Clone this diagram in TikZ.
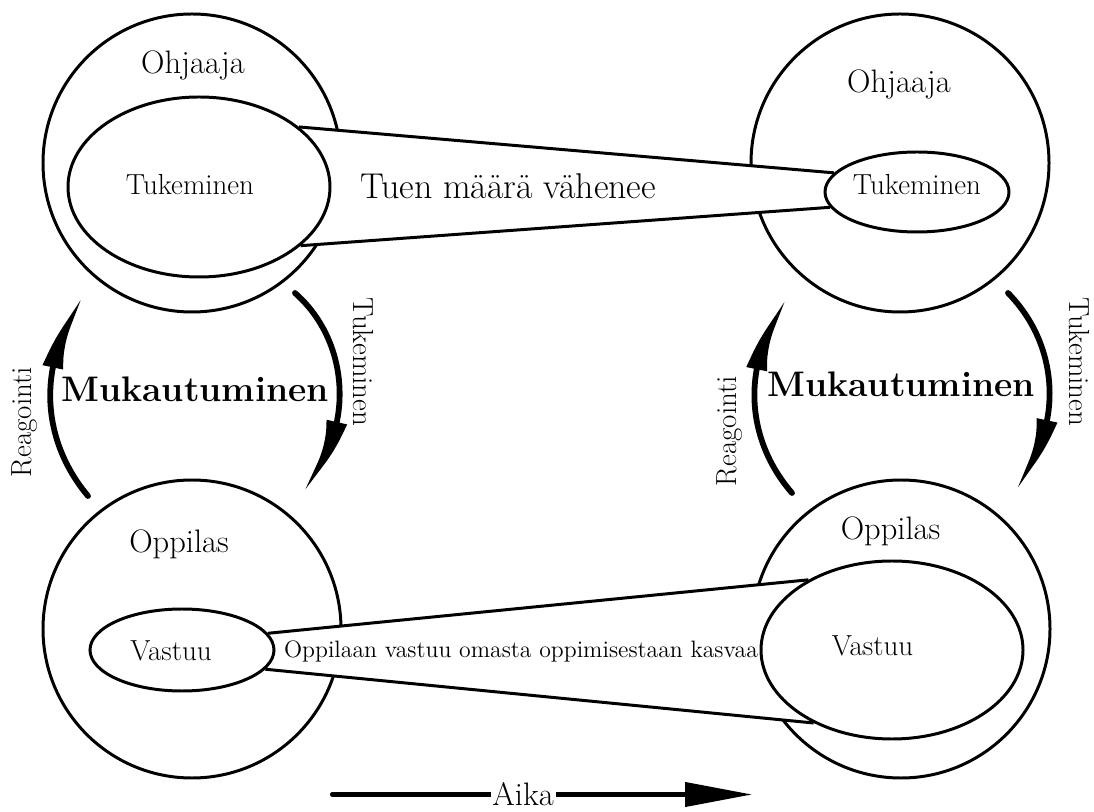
\documentclass[tikz,border=0pt]{standalone}
\usepackage{fontspec}
\usepackage{tikz}
\usetikzlibrary{shapes.geometric, arrows.meta, bending, positioning, backgrounds}

\begin{document}
\begin{tikzpicture}[
    actor/.style={circle, draw, line width=1.7pt, minimum size=5.96cm, inner sep=0pt},
    share/.style={ellipse, draw, line width=1.7pt, inner sep=0pt},
    bigtext/.style={font=\fontsize{18.5}{22}\selectfont},
    midtext/.style={font=\fontsize{16.5}{20}\selectfont},
    adapttext/.style={font=\fontsize{20.2}{24}\selectfont\bfseries},
    adaptarrow/.style={line width=3.3pt, line cap=round, -{Latex[length=1.7cm, width=0.42cm, bend]}}
]
    \useasboundingbox (0,0) rectangle (21.88,16.22);

    % Inner ellipses
    \node[share, minimum width=5.24cm, minimum height=3.6cm] (tukL) at (3.98,12.48) {};
    \node[share, minimum width=3.68cm, minimum height=1.6cm] (tukR) at (18.34,12.38) {};
    \node[share, minimum width=3.68cm, minimum height=1.64cm] (vasL) at (3.64,3.22) {};
    \node[share, minimum width=5.24cm, minimum height=3.56cm] (vasR) at (17.84,3.22) {};

    % Actors and bands behind the ellipses
    \begin{scope}[on background layer]
        \node[actor] (ohjL) at (3.84,12.96) {};
        \node[actor] (ohjR) at (18.00,12.96) {};
        \node[actor] (oppL) at (3.84,3.64) {};
        \node[actor] (oppR) at (18.02,3.64) {};
        \fill[white] (tukL.31) -- (tukR.167) -- (tukR.190) -- (tukL.-30) -- cycle;
        \fill[white] (vasL.11) -- (vasR.140) -- (vasR.223) -- (vasL.-13) -- cycle;
        \draw[line width=1.7pt] (tukL.31) -- (tukR.167) (tukL.-30) -- (tukR.190);
        \draw[line width=1.7pt] (vasL.11) -- (vasR.140) (vasL.-13) -- (vasR.223);
    \end{scope}

    % Labels
    \node[bigtext, anchor=base] (ohjLlab) at (3.86,14.74) {Ohjaaja};
    \node[bigtext, anchor=base] (ohjRlab) at (17.98,14.36) {Ohjaaja};
    \node[bigtext, anchor=base] (oppLlab) at (3.58,5.16) {Oppilas};
    \node[bigtext, anchor=base] (oppRlab) at (17.81,5.42) {Oppilas};
    \node[midtext, anchor=base] (tukLlab) at (3.80,12.32) {Tukeminen};
    \node[midtext, anchor=base] (tukRlab) at (18.34,12.32) {Tukeminen};
    \node[midtext, anchor=base] (vasLlab) at (3.42,3.02) {Vastuu};
    \node[midtext, anchor=base] (vasRlab) at (17.45,3.10) {Vastuu};
    \node[font=\fontsize{20.4}{24}\selectfont, anchor=base] (tuen) at (10.16,12.24) {Tuen määrä vähenee};
    \node[font=\fontsize{13.5}{16}\selectfont, anchor=base] (kasvaa) at (10.42,3.07) {Oppilaan vastuu omasta oppimisestaan kasvaa};

    % Adaptation loops
    \node[adapttext, anchor=base] (mukL) at (3.90,8.19) {Mukautuminen};
    \node[adapttext, anchor=base] (mukR) at (18.02,8.29) {Mukautuminen};
    \coordinate (reaLs) at (1.76,6.30);
    \coordinate (reaLe) at (1.76,10.32);
    \coordinate (tukLs) at (5.90,10.36);
    \coordinate (tukLe) at (5.94,6.36);
    \coordinate (reaRs) at (15.84,6.36);
    \coordinate (reaRe) at (15.84,10.28);
    \coordinate (tukRs) at (20.16,10.36);
    \coordinate (tukRe) at (20.20,6.38);
    \draw[adaptarrow] (reaLs) to[bend left=40] (reaLe);
    \draw[adaptarrow] (tukLs) to[bend left=48] (tukLe);
    \draw[adaptarrow] (reaRs) to[bend left=41] (reaRe);
    \draw[adaptarrow] (tukRs) to[bend left=44] (tukRe);
    \node[midtext, rotate=90] (reaLlab) at (0.50,7.78) {Reagointi};
    \node[midtext, rotate=90] (reaRlab) at (14.60,7.60) {Reagointi};
    \node[midtext, rotate=-90] (tukLrot) at (7.26,8.98) {Tukeminen};
    \node[midtext, rotate=-90] (tukRrot) at (21.58,8.98) {Tukeminen};

    % Time axis
    \coordinate (aikaS) at (6.64,0.33);
    \coordinate (aikaE) at (15.04,0.33);
    \draw[line width=2.3pt, line cap=round, -{Triangle[length=1.34cm, width=0.48cm]}] (aikaS) -- node[pos=0.455, bigtext, fill=white, inner sep=1pt] (aika) {Aika} (aikaE);
\end{tikzpicture}
\end{document}
